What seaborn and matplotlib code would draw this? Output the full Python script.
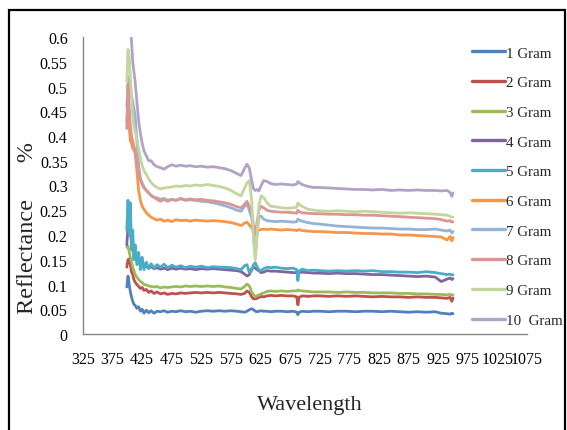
import numpy as np
import pandas as pd
import seaborn as sns
import matplotlib.pyplot as plt
from matplotlib.patches import Rectangle
from matplotlib.ticker import FuncFormatter

# wavelength grid (nm)
wavelength = [399, 401, 403, 405, 407, 409, 411, 413, 416, 419, 422, 425, 428, 432, 436, 440, 445, 450, 456, 462,
              468, 475, 482, 490, 498, 506, 515, 525, 535, 545, 555, 565, 575, 585, 592, 598, 602, 606, 610, 613,
              616, 619, 622, 626, 630, 636, 642, 650, 660, 670, 680, 686, 688, 690, 695, 705, 715, 725, 740, 755,
              770, 785, 800, 815, 830, 845, 860, 875, 890, 905, 920, 930, 940, 945, 948, 950]

g1 = [0.095, 0.117, 0.100, 0.085, 0.075, 0.066, 0.060, 0.058, 0.052, 0.055, 0.046, 0.050, 0.042, 0.048, 0.043, 0.047, 0.042, 0.046, 0.045, 0.047,
      0.044, 0.046, 0.045, 0.047, 0.045, 0.046, 0.044, 0.046, 0.047, 0.046, 0.047, 0.046, 0.047, 0.046, 0.045, 0.044, 0.046, 0.049, 0.051, 0.049,
      0.046, 0.045, 0.046, 0.047, 0.046, 0.046, 0.045, 0.046, 0.046, 0.045, 0.046, 0.044, 0.039, 0.044, 0.046, 0.045, 0.046, 0.046, 0.045, 0.046,
      0.046, 0.045, 0.046, 0.046, 0.045, 0.046, 0.045, 0.044, 0.045, 0.044, 0.045, 0.042, 0.041, 0.040, 0.042, 0.041]
g2 = [0.135, 0.150, 0.152, 0.140, 0.125, 0.120, 0.110, 0.105, 0.100, 0.096, 0.092, 0.094, 0.088, 0.090, 0.084, 0.087, 0.082, 0.085, 0.081, 0.083,
      0.080, 0.082, 0.081, 0.083, 0.082, 0.083, 0.084, 0.083, 0.084, 0.083, 0.084, 0.083, 0.082, 0.081, 0.080, 0.082, 0.087, 0.084, 0.075, 0.071,
      0.071, 0.072, 0.074, 0.076, 0.075, 0.077, 0.078, 0.077, 0.078, 0.077, 0.077, 0.075, 0.059, 0.074, 0.077, 0.076, 0.077, 0.077, 0.076, 0.077,
      0.076, 0.077, 0.076, 0.075, 0.076, 0.075, 0.075, 0.074, 0.075, 0.074, 0.074, 0.073, 0.072, 0.074, 0.066, 0.073]
g3 = [0.175, 0.178, 0.166, 0.155, 0.145, 0.135, 0.128, 0.120, 0.115, 0.110, 0.106, 0.104, 0.100, 0.099, 0.097, 0.096, 0.095, 0.096, 0.093, 0.095,
      0.094, 0.095, 0.096, 0.095, 0.097, 0.096, 0.097, 0.096, 0.097, 0.096, 0.097, 0.095, 0.094, 0.092, 0.091, 0.096, 0.101, 0.097, 0.085, 0.079,
      0.076, 0.077, 0.079, 0.081, 0.083, 0.086, 0.087, 0.086, 0.087, 0.086, 0.087, 0.087, 0.089, 0.088, 0.087, 0.086, 0.085, 0.085, 0.085, 0.084,
      0.085, 0.084, 0.084, 0.083, 0.083, 0.083, 0.082, 0.082, 0.081, 0.081, 0.080, 0.080, 0.079, 0.080, 0.079, 0.079]
g4 = [0.180, 0.220, 0.200, 0.215, 0.180, 0.170, 0.160, 0.155, 0.150, 0.147, 0.140, 0.142, 0.136, 0.137, 0.133, 0.136, 0.132, 0.134, 0.131, 0.133,
      0.130, 0.133, 0.131, 0.133, 0.131, 0.132, 0.130, 0.132, 0.131, 0.132, 0.131, 0.130, 0.129, 0.128, 0.126, 0.121, 0.117, 0.120, 0.132, 0.135,
      0.133, 0.130, 0.128, 0.124, 0.125, 0.128, 0.127, 0.127, 0.126, 0.125, 0.124, 0.124, 0.122, 0.124, 0.125, 0.124, 0.123, 0.123, 0.122, 0.123,
      0.122, 0.122, 0.121, 0.120, 0.120, 0.119, 0.118, 0.117, 0.116, 0.117, 0.115, 0.106, 0.111, 0.113, 0.110, 0.112]
g5 = [0.210, 0.270, 0.200, 0.265, 0.170, 0.210, 0.150, 0.180, 0.140, 0.165, 0.130, 0.155, 0.130, 0.145, 0.132, 0.142, 0.133, 0.140, 0.135, 0.141,
      0.134, 0.139, 0.135, 0.138, 0.134, 0.137, 0.135, 0.137, 0.134, 0.136, 0.135, 0.135, 0.134, 0.132, 0.130, 0.138, 0.140, 0.124, 0.128, 0.140,
      0.144, 0.136, 0.130, 0.128, 0.132, 0.135, 0.134, 0.135, 0.133, 0.132, 0.133, 0.130, 0.108, 0.127, 0.131, 0.128, 0.129, 0.128, 0.127, 0.128,
      0.127, 0.128, 0.127, 0.128, 0.126, 0.126, 0.125, 0.125, 0.124, 0.126, 0.124, 0.122, 0.120, 0.121, 0.119, 0.120]
g6 = [0.430, 0.470, 0.420, 0.390, 0.385, 0.375, 0.372, 0.365, 0.330, 0.290, 0.270, 0.258, 0.252, 0.245, 0.240, 0.236, 0.233, 0.230, 0.232, 0.228,
      0.230, 0.227, 0.231, 0.229, 0.230, 0.228, 0.230, 0.229, 0.228, 0.229, 0.228, 0.227, 0.225, 0.222, 0.219, 0.224, 0.226, 0.220, 0.214, 0.210,
      0.205, 0.207, 0.210, 0.211, 0.212, 0.211, 0.212, 0.211, 0.210, 0.211, 0.210, 0.209, 0.210, 0.211, 0.209, 0.208, 0.207, 0.207, 0.206, 0.205,
      0.205, 0.204, 0.203, 0.203, 0.202, 0.202, 0.200, 0.200, 0.199, 0.198, 0.197, 0.196, 0.190, 0.197, 0.188, 0.195]
g7 = [0.460, 0.500, 0.520, 0.500, 0.480, 0.470, 0.455, 0.440, 0.390, 0.340, 0.315, 0.305, 0.297, 0.290, 0.285, 0.280, 0.276, 0.275, 0.272, 0.274,
      0.270, 0.272, 0.270, 0.273, 0.270, 0.271, 0.270, 0.268, 0.267, 0.265, 0.262, 0.259, 0.255, 0.250, 0.248, 0.258, 0.263, 0.250, 0.235, 0.200,
      0.158, 0.200, 0.237, 0.238, 0.232, 0.229, 0.228, 0.227, 0.228, 0.227, 0.226, 0.227, 0.232, 0.230, 0.228, 0.225, 0.223, 0.222, 0.220, 0.218,
      0.217, 0.216, 0.215, 0.214, 0.214, 0.213, 0.212, 0.212, 0.211, 0.211, 0.212, 0.210, 0.208, 0.210, 0.204, 0.207]
g8 = [0.415, 0.505, 0.460, 0.420, 0.400, 0.390, 0.380, 0.370, 0.350, 0.325, 0.310, 0.302, 0.295, 0.290, 0.285, 0.280, 0.276, 0.272, 0.268, 0.272,
      0.268, 0.272, 0.270, 0.274, 0.271, 0.273, 0.271, 0.272, 0.270, 0.269, 0.267, 0.265, 0.262, 0.257, 0.255, 0.262, 0.268, 0.258, 0.245, 0.220,
      0.200, 0.225, 0.250, 0.258, 0.255, 0.250, 0.248, 0.247, 0.246, 0.246, 0.245, 0.244, 0.250, 0.247, 0.245, 0.244, 0.243, 0.243, 0.242, 0.242,
      0.241, 0.241, 0.240, 0.240, 0.239, 0.238, 0.237, 0.236, 0.235, 0.234, 0.233, 0.231, 0.228, 0.229, 0.226, 0.227]
g9 = [0.510, 0.575, 0.560, 0.520, 0.480, 0.440, 0.420, 0.410, 0.394, 0.375, 0.355, 0.340, 0.330, 0.322, 0.313, 0.306, 0.300, 0.296, 0.293, 0.295,
      0.296, 0.297, 0.299, 0.298, 0.300, 0.299, 0.301, 0.300, 0.302, 0.300, 0.298, 0.295, 0.290, 0.283, 0.279, 0.295, 0.305, 0.310, 0.270, 0.190,
      0.150, 0.200, 0.260, 0.279, 0.276, 0.265, 0.258, 0.257, 0.255, 0.254, 0.255, 0.256, 0.265, 0.262, 0.258, 0.252, 0.250, 0.249, 0.248, 0.249,
      0.248, 0.247, 0.248, 0.247, 0.246, 0.245, 0.244, 0.245, 0.244, 0.243, 0.242, 0.241, 0.240, 0.238, 0.236, 0.236]
g10 = [0.620, 0.630, 0.640, 0.630, 0.590, 0.550, 0.530, 0.510, 0.470, 0.430, 0.405, 0.385, 0.370, 0.360, 0.350, 0.350, 0.342, 0.338, 0.336, 0.333,
       0.338, 0.342, 0.339, 0.341, 0.339, 0.340, 0.338, 0.339, 0.337, 0.338, 0.336, 0.334, 0.330, 0.324, 0.320, 0.335, 0.343, 0.335, 0.310, 0.293,
       0.290, 0.292, 0.289, 0.300, 0.310, 0.308, 0.304, 0.302, 0.303, 0.302, 0.301, 0.303, 0.308, 0.306, 0.302, 0.298, 0.296, 0.296, 0.295, 0.294,
       0.293, 0.292, 0.292, 0.291, 0.292, 0.290, 0.291, 0.290, 0.291, 0.290, 0.290, 0.289, 0.290, 0.286, 0.278, 0.285]

labels = ["1 Gram", "2 Gram", "3 Gram", "4 Gram", "5 Gram", "6 Gram", "7 Gram", "8 Gram", "9 Gram", "10  Gram"]
colors = ["#4F81BD", "#C0504D", "#9BBB59", "#8064A2", "#4BACC6", "#F79646",
          "#95B3D7", "#D99694", "#C3D69B", "#B3A2C7"]
series = [g1, g2, g3, g4, g5, g6, g7, g8, g9, g10]

rows = []
for lab, vals in zip(labels, series):
    for w, v in zip(wavelength, vals):
        rows.append({"Wavelength": w, "Reflectance": v, "Sample": lab})
df = pd.DataFrame(rows)

sns.set_style("white")
plt.rcParams['font.family'] = ['Liberation Serif', 'DejaVu Serif']

fig = plt.figure(figsize=(5.67, 4.31), dpi=100)
ax = fig.add_axes([83 / 567, 1 - 335 / 431, 444 / 567, 297 / 431])

sns.lineplot(data=df, x="Wavelength", y="Reflectance", hue="Sample", hue_order=labels,
             palette=colors, linewidth=2.0, sort=False, estimator=None, ax=ax)

ax.set_xlim(325, 1075)
ax.set_ylim(0, 0.6)
ax.set_xticks(np.arange(325, 1076, 50))
ax.set_yticks(np.arange(0, 0.601, 0.05))
ax.yaxis.set_major_formatter(FuncFormatter(lambda v, p: "%g" % round(v, 2)))

for s in ["top", "right"]:
    ax.spines[s].set_visible(False)
for s in ["left", "bottom"]:
    ax.spines[s].set_color("#868686")
    ax.spines[s].set_linewidth(1.0)
ax.tick_params(axis="both", direction="out", length=5, width=1, color="#868686",
               labelsize=11.5, labelcolor="black")
ax.tick_params(axis="y", pad=6)
ax.tick_params(axis="x", pad=7)

ax.set_xlabel("")
ax.set_ylabel("")
fig.text(310 / 567, 1 - 406 / 431, "Wavelength", fontsize=16, ha="center", va="center")
fig.text(28 / 567, 1 - 228 / 431, "Reflectance      %", fontsize=17.5, rotation=90,
         ha="center", va="center")

sns.move_legend(ax, "upper left", bbox_to_anchor=(466 / 567, 1 - 41 / 431),
                bbox_transform=fig.transFigure, frameon=False, title=None,
                fontsize=10.8, labelspacing=1.08, handlelength=2.2, handletextpad=0.1,
                borderaxespad=0)
for line in ax.get_legend().get_lines():
    line.set_linewidth(2.4)

# chart area border
fig.patches.append(Rectangle((9 / 567, -0.02), 556 / 567, 1 - 11 / 431 + 0.02,
                             transform=fig.transFigure, fill=False, edgecolor="black",
                             linewidth=1.6))

plt.savefig("out.png", dpi=100)
